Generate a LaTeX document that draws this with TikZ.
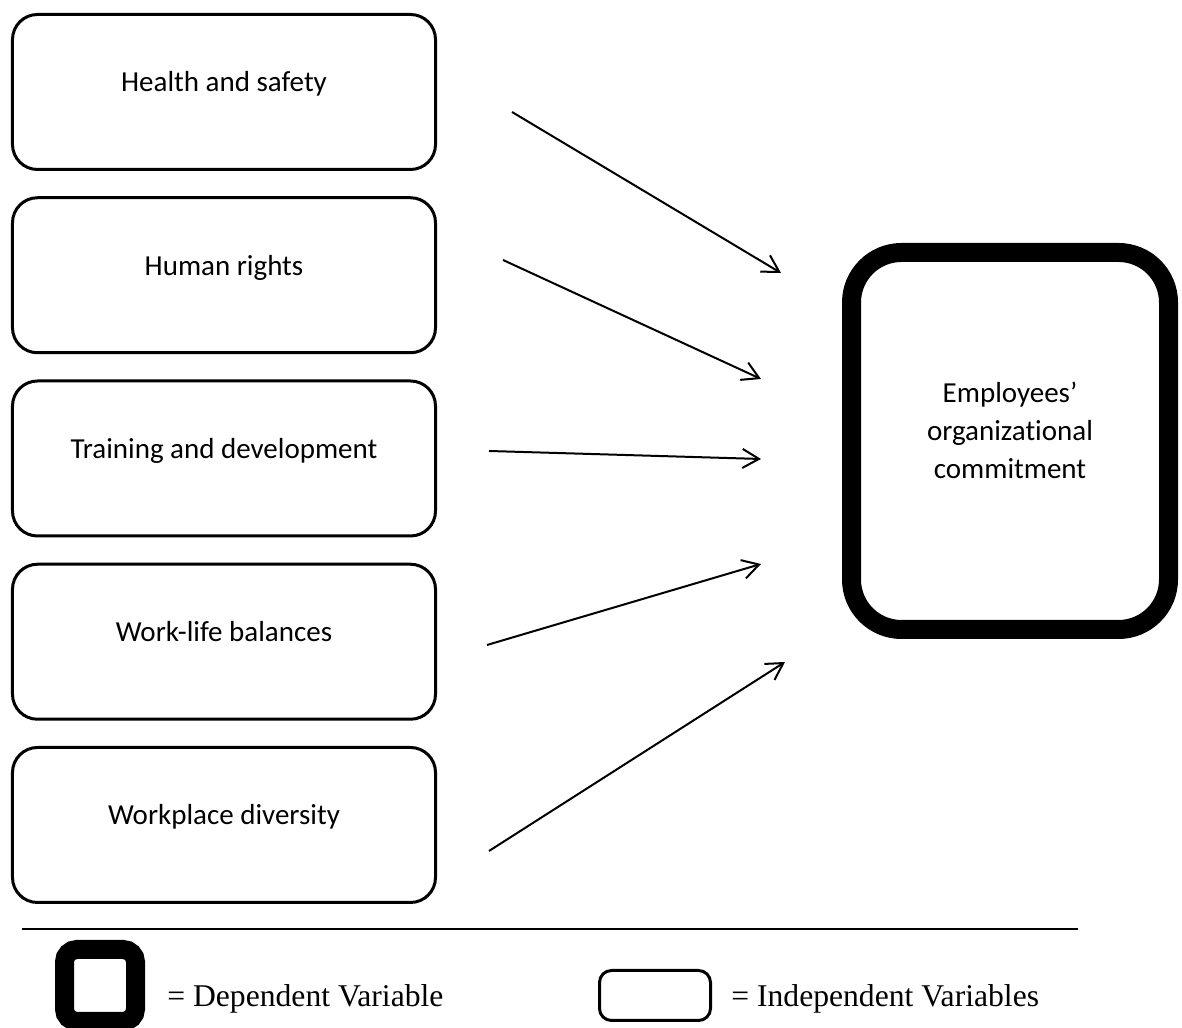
\documentclass[tikz,border=0pt]{standalone}
\usepackage{fontspec}
\setmainfont{Liberation Serif}
\newfontfamily\calibri[Ligatures=NoCommon]{Carlito}
\usetikzlibrary{arrows.meta}

\begin{document}
\begin{tikzpicture}[
    >={Straight Barb[length=0.33cm,width=0.38cm]},
    ivbox/.style={draw, line width=0.06cm, rounded corners=0.5cm,
        minimum width=8.46cm, minimum height=3.1cm,
        font=\calibri\fontsize{16.5}{20}\selectfont,
        text height=0.3cm, text depth=0.3cm},
    dvbox/.style={draw, line width=0.38cm, rounded corners=1cm,
        minimum width=6.34cm, minimum height=7.54cm, align=center,
        font=\calibri\fontsize{16.5}{21.6}\selectfont, text depth=0.44cm},
    link/.style={->, line width=0.04cm},
    keytext/.style={anchor=base west, inner sep=0pt, font=\fontsize{18}{22}\selectfont}
]
\useasboundingbox (0,0) rectangle (23.64,20.56);

% independent variables
\node[ivbox] (hs) at (4.48,18.72) {Health and safety};
\node[ivbox] (hr) at (4.48,15.055) {Human rights};
\node[ivbox] (td) at (4.48,11.39) {Training and development};
\node[ivbox] (wl) at (4.48,7.725) {Work-life balances};
\node[ivbox] (wd) at (4.48,4.06) {Workplace diversity};

% dependent variable
\node[dvbox] (eoc) at (20.2,11.74) {Employees’\\organizational\\commitment};

% arrow ends
\coordinate (hs-out) at (10.24,18.32);
\coordinate (hr-out) at (10.06,15.36);
\coordinate (td-out) at (9.78,11.54);
\coordinate (wl-out) at (9.74,7.66);
\coordinate (wd-out) at (9.78,3.54);
\coordinate (eoc-in1) at (15.62,15.10);
\coordinate (eoc-in2) at (15.22,12.98);
\coordinate (eoc-in3) at (15.22,11.38);
\coordinate (eoc-in4) at (15.22,9.28);
\coordinate (eoc-in5) at (15.70,7.32);

\draw[link] (hs-out) -- (eoc-in1);
\draw[link] (hr-out) -- (eoc-in2);
\draw[link] (td-out) -- (eoc-in3);
\draw[link] (wl-out) -- (eoc-in4);
\draw[link] (wd-out) -- (eoc-in5);

% key
\draw[line width=0.03cm] (0.44,1.98) -- (21.56,1.98);
\node[draw, line width=0.38cm, rounded corners=0.25cm,
    minimum width=1.42cm, minimum height=1.44cm] (dvkey) at (2.0,0.85) {};
\node[keytext] (dvkeytext) at (3.34,0.42) {= Dependent Variable};
\node[draw, line width=0.06cm, rounded corners=0.24cm,
    minimum width=2.22cm, minimum height=1.0cm] (ivkey) at (13.1,0.65) {};
\node[keytext] (ivkeytext) at (14.62,0.42) {= Independent Variables};
\end{tikzpicture}
\end{document}
